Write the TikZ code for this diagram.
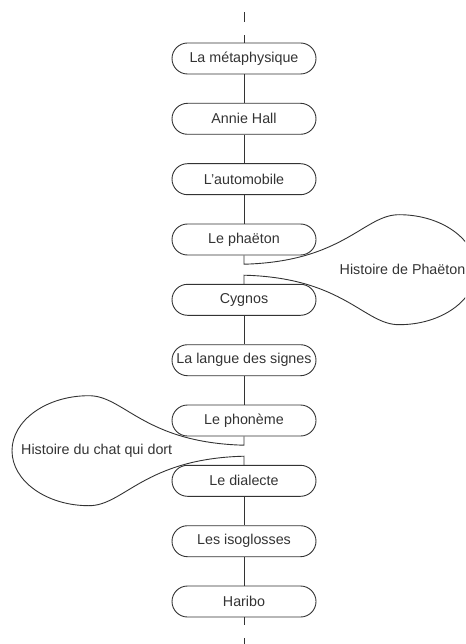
\documentclass[tikz,border=0pt]{standalone}
\usepackage{fontspec}
\setmainfont{Liberation Sans}
\begin{document}
\begin{tikzpicture}[x=1pt,y=-1pt,
  line/.style={draw=black!80,line width=0.9pt},
  stepbox/.style={line,rectangle,rounded corners=15.5pt,minimum width=144pt,minimum height=31pt,inner sep=0pt,
    font=\fontsize{14.3}{17}\selectfont,text=black!80},
  btext/.style={inner sep=0pt,font=\fontsize{14.3}{17}\selectfont,text=black!80},
  dashtail/.style={line,dash pattern=on 8pt off 12.5pt on 10pt off 200pt}]
\useasboundingbox (0,0) rectangle (465,644);
\clip (0,0) rectangle (465,644);
\node[stepbox] (n1) at (244,58.5) {La métaphysique};
\node[stepbox] (n2) at (244,118.8) {Annie Hall};
\node[stepbox] (n3) at (244,179.2) {L’automobile};
\node[stepbox] (n4) at (244,239.5) {Le phaëton};
\node[stepbox] (n5) at (244,299.8) {Cygnos};
\node[stepbox] (n6) at (244,360.2) {La langue des signes};
\node[stepbox] (n7) at (244,420.5) {Le phonème};
\node[stepbox] (n8) at (244,480.8) {Le dialecte};
\node[stepbox] (n9) at (244,541.2) {Les isoglosses};
\node[stepbox] (n10) at (244,601.5) {Haribo};
\coordinate (top) at (244,12);
\coordinate (bot) at (244,650);
\draw[dashtail] (n1.north) -- (top);
\draw[dashtail] (n10.south) -- (bot);
\draw[line] (n1) -- (n2);
\draw[line] (n2) -- (n3);
\draw[line] (n3) -- (n4);
\draw[line] (n5) -- (n6);
\draw[line] (n6) -- (n7);
\draw[line] (n8) -- (n9);
\draw[line] (n9) -- (n10);
\begin{scope}[shift={(244,269.7)}]
\draw[line] (n4.south) -- (0,-5.5) .. controls (100,-8) and (120,-55) .. (155,-55)
  .. controls (197.5,-55) and (232,-30.4) .. (232,0)
  .. controls (232,30.4) and (197.5,55) .. (155,55)
  .. controls (120,55) and (100,8) .. (0,5.5) -- (n5.north);
\end{scope}
\begin{scope}[shift={(244,450.7)},xscale=-1]
\draw[line] (n7.south) -- (0,-5.5) .. controls (100,-8) and (120,-55) .. (155,-55)
  .. controls (197.5,-55) and (232,-30.4) .. (232,0)
  .. controls (232,30.4) and (197.5,55) .. (155,55)
  .. controls (120,55) and (100,8) .. (0,5.5) -- (n8.north);
\end{scope}
\node[btext,anchor=east] (b1) at (465.5,269.7) {Histoire de Phaëton};
\node[btext,anchor=west] (b2) at (21,450.7) {Histoire du chat qui dort};
\end{tikzpicture}
\end{document}
